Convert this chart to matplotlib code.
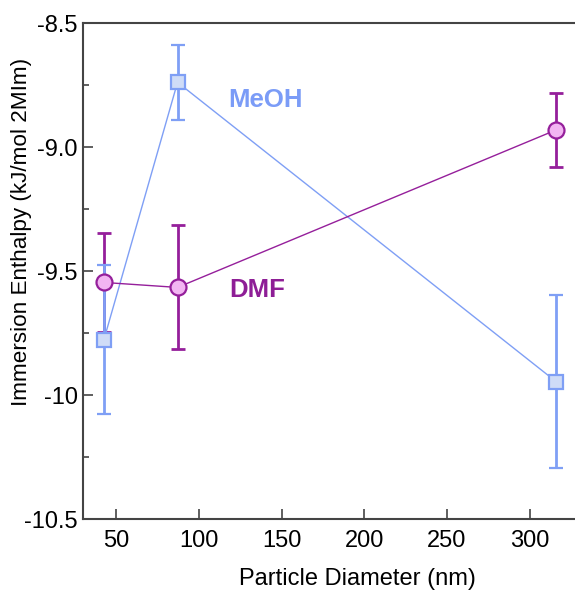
import matplotlib
matplotlib.use("Agg")
import matplotlib.pyplot as plt
from matplotlib.ticker import MultipleLocator

plt.rcParams['font.family'] = ['Liberation Sans', 'DejaVu Sans']

diam_meoh = [42.5, 87, 316]
meoh = [-9.775, -8.738, -9.945]
meoh_err = [0.30, 0.15, 0.35]

diam_dmf = [42.5, 87, 316]
dmf = [-9.545, -9.565, -8.930]
dmf_err = [0.20, 0.25, 0.15]

xticks = [50, 100, 150, 200, 250, 300]
yticks = [-10.5, -10.0, -9.5, -9.0, -8.5]
ytick_labels = ['-10.5', '-10', '-9.5', '-9.0', '-8.5']

W, H = 575, 595
fig = plt.figure(figsize=(W/100, H/100), dpi=100)
left, right, top, bottom = 83.3, 631, 23.3, 519.3
ax = fig.add_axes([left/W, 1 - bottom/H, (right-left)/W, (bottom-top)/H])

blue_line = '#7f9ff5'
blue_fill = '#cfdcf7'
purple_line = '#951f9b'
purple_fill = '#f2b5f2'

# DMF error bars underneath
ax.errorbar(diam_dmf, dmf, yerr=dmf_err, fmt='none', ecolor=purple_line,
            elinewidth=2.0, capsize=5, capthick=2.0, zorder=2)
# MeOH full series
ax.errorbar(diam_meoh, meoh, yerr=meoh_err, color=blue_line, lw=1.0,
            elinewidth=2.0, capsize=5, capthick=2.0,
            marker='s', ms=10.5, mfc=blue_fill, mec=blue_line, mew=1.6, zorder=3)
# DMF line and markers on top
ax.plot(diam_dmf, dmf, color=purple_line, lw=1.0,
        marker='o', ms=11.5, mfc=purple_fill, mec=purple_line, mew=1.6, zorder=4)

ax.text(140, -8.81, 'MeOH', color='#7b9cf7', fontsize=18.5, fontweight='bold',
        ha='center', va='center')
ax.text(135, -9.575, 'DMF', color='#8e1e96', fontsize=18.5, fontweight='bold',
        ha='center', va='center')

ax.set_xlim(30, 361.3)
ax.set_ylim(-10.5, -8.5)
ax.set_xticks(xticks)
ax.set_yticks(yticks)
ax.set_yticklabels(ytick_labels)
ax.yaxis.set_minor_locator(MultipleLocator(0.25))

for s in ['left', 'top', 'bottom']:
    ax.spines[s].set_color('#444444')
    ax.spines[s].set_linewidth(1.5)
ax.spines['right'].set_visible(False)

ax.tick_params(axis='both', which='major', direction='in', length=7,
               width=1.2, color='#444444', labelsize=17, pad=4)
ax.tick_params(axis='y', which='minor', direction='in', length=4,
               width=1.2, color='#444444')
ax.tick_params(axis='x', which='major', pad=8)

fig.text(357/W, 1 - 579/H, 'Particle Diameter (nm)', fontsize=17,
         ha='center', va='center')
fig.text(22/W, 1 - 232/H, 'Immersion Enthalpy (kJ/mol 2MIm)', fontsize=16.2,
         ha='center', va='center', rotation=90)

fig.savefig('out.png', dpi=100)
